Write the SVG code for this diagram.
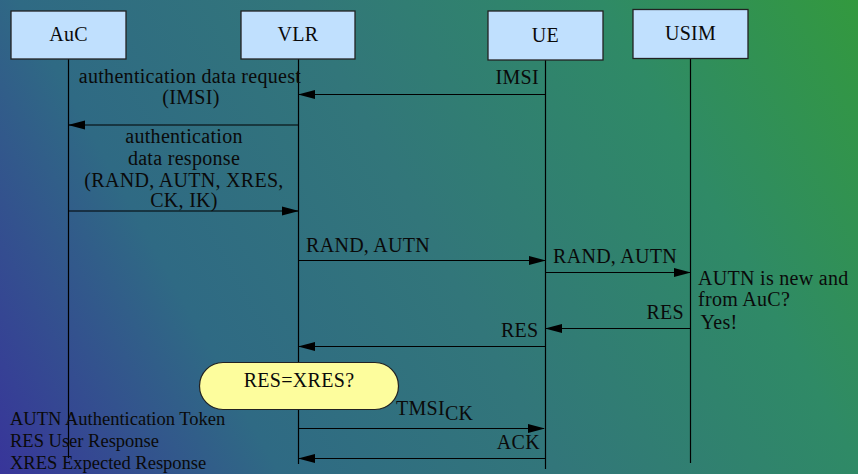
<svg xmlns="http://www.w3.org/2000/svg" width="858" height="474" viewBox="0 0 858 474">
<defs>
<linearGradient id="bg" gradientUnits="userSpaceOnUse" x1="0" y1="474" x2="858" y2="0">
<stop offset="0" stop-color="#38359a"/>
<stop offset="0.25" stop-color="#2f6a84"/>
<stop offset="0.5" stop-color="#32767a"/>
<stop offset="0.77" stop-color="#2f8a66"/>
<stop offset="1" stop-color="#33993e"/>
</linearGradient>
<marker id="ah" markerWidth="17" markerHeight="10" refX="16" refY="5" orient="auto" markerUnits="userSpaceOnUse">
<path d="M0,0.5 L17,5 L0,9.5 Z" fill="#000"/>
</marker>
<style>
.box{fill:#c0e0fe;stroke:#222;stroke-width:1.3}
.life{stroke:#000;stroke-width:1.2;fill:none}
.msg{stroke:#000;stroke-width:1.1;fill:none;marker-end:url(#ah)}
.t{font-family:"Liberation Serif","Times New Roman",serif;font-size:20px;fill:#0a0a0a;letter-spacing:0.3px}
.mid{text-anchor:middle}
.end{text-anchor:end}
.leg{font-size:18.5px;letter-spacing:0}
</style>
</defs>
<rect x="0" y="0" width="858" height="474" fill="url(#bg)"/>
<g id="lifelines">
<line class="life" x1="68.5" y1="59" x2="68.5" y2="458"/>
<line class="life" x1="298.5" y1="59" x2="298.5" y2="464"/>
<line class="life" x1="545.5" y1="60" x2="545.5" y2="469"/>
<line class="life" x1="690.5" y1="58" x2="690.5" y2="463"/>
</g>
<g id="AuC"><rect class="box" x="11" y="11" width="115" height="48"/><text class="t mid" x="68.5" y="41">AuC</text></g>
<g id="VLR"><rect class="box" x="241" y="11" width="114" height="48"/><text class="t mid" x="298" y="41">VLR</text></g>
<g id="UE"><rect class="box" x="488" y="11" width="115" height="49"/><text class="t mid" x="545.5" y="42">UE</text></g>
<g id="USIM"><rect class="box" x="633" y="9.5" width="115" height="49"/><text class="t mid" x="690.5" y="40">USIM</text></g>
<g id="connectors">
<line class="msg" x1="545.5" y1="94.5" x2="299" y2="94.5"/>
<line class="msg" x1="298.5" y1="125" x2="69" y2="125"/>
<line class="msg" x1="68.5" y1="211" x2="298" y2="211"/>
<line class="msg" x1="298.5" y1="260.5" x2="545" y2="260.5"/>
<line class="msg" x1="545.5" y1="272.5" x2="690" y2="272.5"/>
<line class="msg" x1="690.5" y1="328.5" x2="546" y2="328.5"/>
<line class="msg" x1="545.5" y1="346.5" x2="299" y2="346.5"/>
<line class="msg" x1="298.5" y1="428.5" x2="544" y2="428.5"/>
<line class="msg" x1="545.5" y1="458.5" x2="299" y2="458.5"/>
</g>
<g id="labels">
<text class="t end" x="539" y="84">IMSI</text>
<text class="t mid" x="190" y="83">authentication data request</text>
<text class="t mid" x="191" y="104">(IMSI)</text>
<text class="t mid" x="184" y="143">authentication</text>
<text class="t mid" x="184" y="165">data response</text>
<text class="t mid" x="184" y="186.5">(RAND, AUTN, XRES,</text>
<text class="t mid" x="184" y="207">CK, IK)</text>
<text class="t" x="306" y="251.5">RAND, AUTN</text>
<text class="t" x="553" y="262.5">RAND, AUTN</text>
<text class="t end" x="684" y="318.5">RES</text>
<text class="t end" x="538.5" y="336.5">RES</text>
<text class="t" x="396" y="415">TMSI<tspan dy="5">CK</tspan></text>
<text class="t end" x="540" y="448.5">ACK</text>
</g>
<g id="note">
<text class="t" x="698" y="285">AUTN is new and</text>
<text class="t" x="698" y="306">from AuC?</text>
<text class="t" x="700.5" y="328.5">Yes!</text>
</g>
<g id="check">
<rect x="199.5" y="362.5" width="199" height="47" rx="23.5" ry="23.5" fill="#fdfd9d" stroke="#222" stroke-width="1.2"/>
<text class="t mid" x="299" y="387">RES=XRES?</text>
</g>
<g id="legend">
<text class="t leg" x="10" y="425">AUTN Authentication Token</text>
<text class="t leg" x="10" y="447">RES User Response</text>
<text class="t leg" x="10" y="469">XRES Expected Response</text>
</g>
</svg>
